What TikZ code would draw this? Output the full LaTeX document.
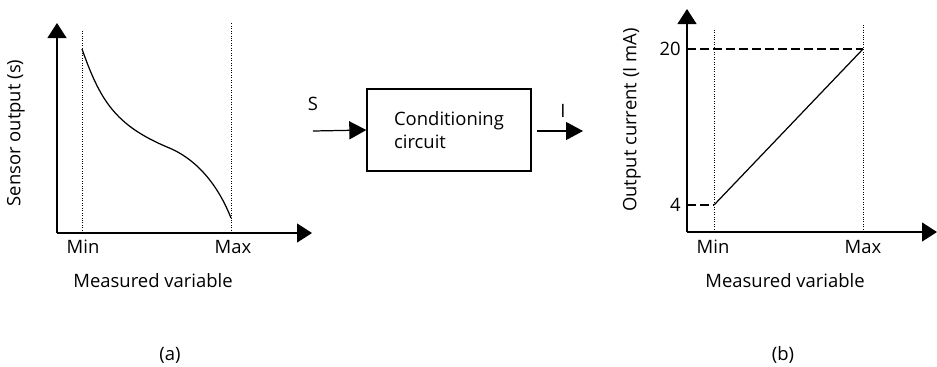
\documentclass[tikz,border=0pt]{standalone}
\usepackage{fontspec}
\setmainfont{Open Sans}
\usetikzlibrary{arrows.meta,positioning}
\tikzset{
  axisline/.style={line width=0.7pt, -{Triangle[length=3mm,width=3.8mm]}},
  sigline/.style={line width=0.7pt, -{Triangle[length=3.4mm,width=3.6mm]}},
  guide/.style={line width=0.4pt, densely dotted},
  level/.style={line width=0.6pt, dash pattern=on 1.8mm off 0.8mm},
  trace/.style={line width=0.7pt},
  lbl/.style={font=\fontsize{10.5}{12}\selectfont, inner sep=0pt},
  blockbox/.style={draw, line width=0.8pt, minimum width=3.28cm, minimum height=1.64cm,
                   align=left, font=\fontsize{10.5}{13}\selectfont},
}

\begin{document}
\begin{tikzpicture}[x=0.02cm, y=-0.02cm]
  \useasboundingbox (0,0) rectangle (937,366);
  % (a) sensor characteristic
  \coordinate (aO)   at (57,233);
  \coordinate (aY)   at (57,23);
  \coordinate (aX)   at (312,233);
  \coordinate (aMinT) at (82,29);
  \coordinate (aMinB) at (82,233);
  \coordinate (aMaxT) at (231,23);
  \coordinate (aMaxB) at (231,233);
  \coordinate (aS)   at (82,49);
  \coordinate (aM)   at (167,147);
  \coordinate (aE)   at (231,218);
  \draw[axisline] (aO) -- (aY);
  \draw[axisline] (aO) -- (aX);
  \draw[guide] (aMinB) -- (aMinT);
  \draw[guide] (aMaxB) -- (aMaxT);
  \draw[trace] (aS) .. controls (100,100) and (115,125) .. (aM)
               .. controls (200,160) and (220,190) .. (aE);
  \node[lbl] (aMin) at (83,247) {Min};
  \node[lbl] (aMax) at (233,247) {Max};
  \node[lbl] (aXlab) at (153,281) {Measured variable};
  \node[lbl, rotate=90] (aYlab) at (16,133) {Sensor output (s)};
  \node[lbl] (aCap) at (170,355) {(a)};
  % conditioning block
  \node[blockbox] (cond) at (449,130) {Conditioning\\circuit};
  \coordinate (sIn)  at (313,131);
  \coordinate (iOut) at (537,131);
  \coordinate (iEnd) at (583,131);
  \draw[sigline] (sIn) -- (cond.west);
  \draw[sigline] (iOut) -- (iEnd);
  \node[lbl] (sLab) at (313,104) {S};
  \node[lbl] (iLab) at (563,111) {I};
  % (b) transmitter output
  \coordinate (bO)   at (687,232);
  \coordinate (bY)   at (687,9);
  \coordinate (bX)   at (937,232);
  \coordinate (bMinT) at (714,29);
  \coordinate (bMinB) at (714,232);
  \coordinate (bMaxT) at (863,23);
  \coordinate (bMaxB) at (863,232);
  \coordinate (b20L) at (687,49);
  \coordinate (b20R) at (863,49);
  \coordinate (b4L)  at (687,205);
  \coordinate (b4R)  at (714,205);
  \draw[axisline] (bO) -- (bY);
  \draw[axisline] (bO) -- (bX);
  \draw[guide] (bMinB) -- (bMinT);
  \draw[guide] (bMaxB) -- (bMaxT);
  \draw[level] (b20L) -- (b20R);
  \draw[level] (b4L) -- (b4R);
  \draw[trace] (b4R) -- (b20R);
  \node[lbl, anchor=east] (b20) at (681,49) {20};
  \node[lbl, anchor=east] (b4)  at (681,205) {4};
  \node[lbl] (bMin) at (713,247) {Min};
  \node[lbl] (bMax) at (863,247) {Max};
  \node[lbl] (bXlab) at (785,281) {Measured variable};
  \node[lbl, rotate=90] (bYlab) at (632,120) {Output current (I mA)};
  \node[lbl] (bCap) at (783,355) {(b)};
\end{tikzpicture}
\end{document}
